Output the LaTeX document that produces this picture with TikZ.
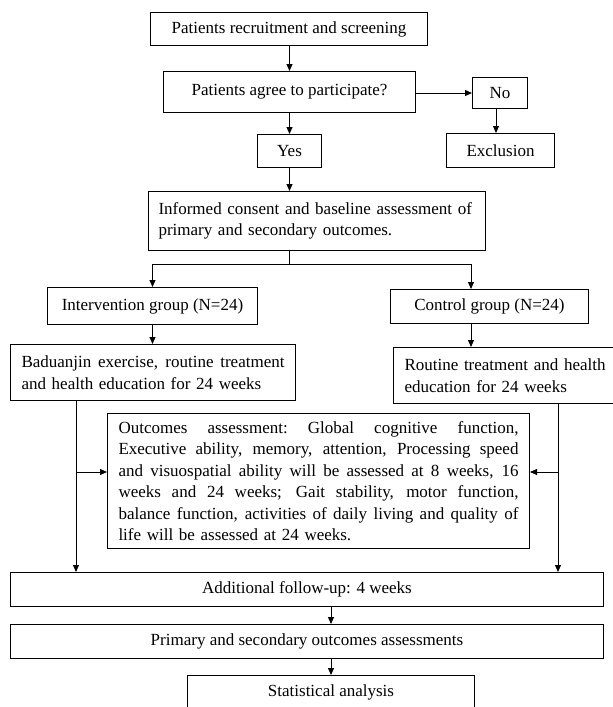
\documentclass[tikz,border=0pt]{standalone}
\usepackage{fontspec}
\setmainfont{Liberation Serif}
\usepackage{tikz}
\usetikzlibrary{arrows.meta,positioning}
\newcommand{\fullline}[2]{\leavevmode\hbox to #1{\spaceskip=.25em plus 1fil\relax\xspaceskip=\spaceskip #2}}

\begin{document}
\begin{tikzpicture}[
  x=1pt,y=1pt,
  >={Triangle[length=7pt,width=6pt]},
  font=\fontsize{17}{21.5}\selectfont,
  box/.style={draw,line width=1pt,anchor=north west,inner sep=0pt,align=center},
  txtbox/.style={box,align=left,inner xsep=11pt},
  arr/.style={->,line width=1pt},
  link/.style={line width=1pt}
]
\useasboundingbox (0,0) rectangle (613,-707);

\node[box,minimum width=277,minimum height=33] (recruit) at (150,-12) {Patients recruitment and screening};
\node[box,minimum width=252,minimum height=41] (agree) at (163,-71) {Patients agree to participate?};
\node[box,minimum width=55,minimum height=31] (no) at (472,-77) {No};
\node[box,minimum width=108,minimum height=34] (excl) at (446,-133) {Exclusion};
\node[box,minimum width=64,minimum height=33] (yes) at (257,-134) {Yes};
\node[txtbox,inner xsep=10pt,text width=317,minimum height=59] (consent) at (148,-191)
  {Informed consent and baseline assessment of\\primary and secondary outcomes.};

\node[box,minimum width=210,minimum height=37] (interv) at (47,-287) {Intervention group (N=24)};
\node[box,minimum width=198,minimum height=34] (ctrl) at (390,-289) {Control group (N=24)};
\node[txtbox,text width=263,minimum height=56] (bdj) at (10,-344)
  {\fullline{263pt}{Baduanjin exercise, routine treatment}\\and health education for 24 weeks};
\node[txtbox,text width=203,minimum height=56] (routine) at (393,-347)
  {Routine treatment and health\\education for 24 weeks};

\node[txtbox,text width=400,minimum height=135] (outc) at (107,-413)
  {\fullline{400pt}{Outcomes assessment: Global cognitive function,}\\
   \fullline{400pt}{Executive ability, memory, attention, Processing speed}\\
   \fullline{400pt}{and visuospatial ability will be assessed at 8 weeks, 16}\\
   \fullline{400pt}{weeks and 24 weeks; Gait stability, motor function,}\\
   \fullline{400pt}{balance function, activities of daily living and quality of}\\
   life will be assessed at 24 weeks.};

\node[box,minimum width=593,minimum height=34] (follow) at (10,-572) {Additional follow-up: 4 weeks};
\node[box,minimum width=593,minimum height=34] (prim) at (10,-624) {Primary and secondary outcomes assessments};
\node[box,minimum width=287,minimum height=34] (stat) at (187,-675) {Statistical analysis};

% branch points
\coordinate (split) at (289,-264);
\coordinate (cx) at (471,0);
\coordinate (lx) at (76,-472);
\coordinate (rx) at (558,-472);

\draw[arr] (recruit.south -| yes) -- (agree.north -| yes);
\draw[arr] (agree.east |- no) -- (no.west);
\draw[arr] (no.south -| 496,0) -- (excl.north -| 496,0);
\draw[arr] (agree.south -| yes) -- (yes.north);
\draw[arr] (yes.south) -- (consent.north -| yes);
\draw[link] (consent.south -| split) -- (split);
\draw[arr] (split) -| (interv.north);
\draw[arr] (split) -| (ctrl.north -| cx);
\draw[arr] (interv.south) -- (bdj.north -| interv);
\draw[arr] (ctrl.south -| cx) -- (routine.north -| cx);

\draw[arr] (bdj.south -| lx) -- (follow.north -| lx);
\draw[arr] (lx) -- (outc.west |- lx);
\draw[arr] (routine.south -| rx) -- (follow.north -| rx);
\draw[arr] (rx) -- (outc.east |- rx);

\draw[arr] (follow.south -| stat) -- (prim.north -| stat);
\draw[arr] (prim.south -| stat) -- (stat.north);
\end{tikzpicture}
\end{document}
